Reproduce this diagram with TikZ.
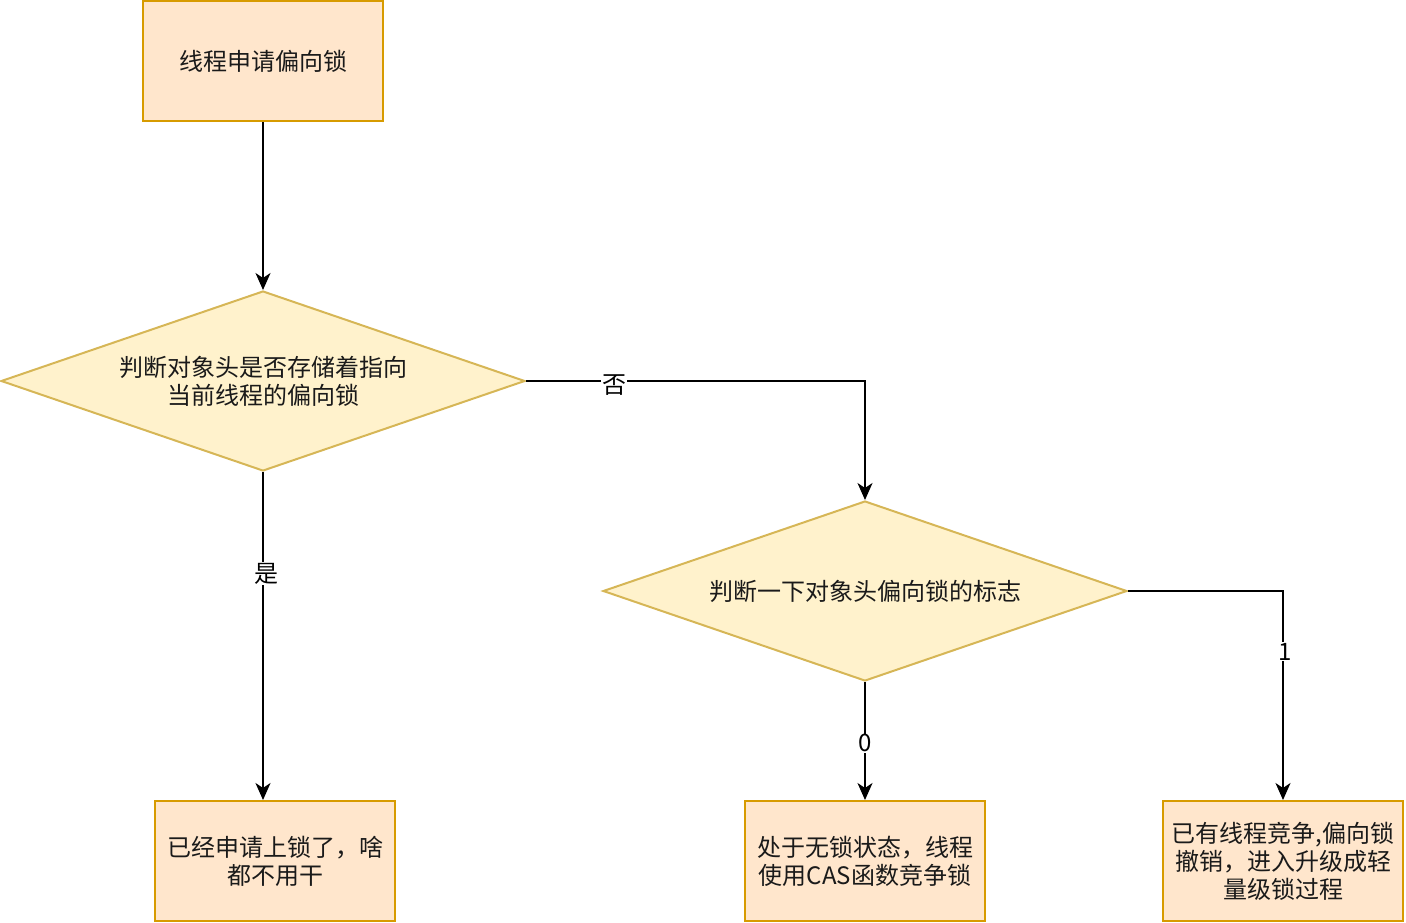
\documentclass[tikz,border=0pt]{standalone}
\usepackage{fontspec}
\setmainfont{Noto Sans CJK SC}
\usetikzlibrary{shapes.geometric,arrows.meta}
\definecolor{boxfill}{HTML}{FFE6CC}
\definecolor{boxline}{HTML}{D79B00}
\definecolor{decfill}{HTML}{FFF2CC}
\definecolor{decline}{HTML}{D6B656}
\definecolor{txt}{HTML}{1A1A1A}
\begin{document}
\begin{tikzpicture}[x=1pt,y=-1pt,
  every node/.style={font=\fontsize{24}{28}\selectfont, text=txt},
  procbox/.style={rectangle, draw=boxline, fill=boxfill, line width=2pt,
    minimum width=240pt, minimum height=120pt, inner sep=0pt, align=center},
  decbox/.style={diamond, draw=decline, fill=decfill, line width=2pt,
    minimum width=524pt, minimum height=180pt, inner sep=0pt, aspect=2.9, align=center},
  arr/.style={line width=2pt, draw=black, -{Stealth[length=17pt,width=15pt,inset=5pt]}},
  lbl/.style={fill=white, inner sep=1pt, text=black}]
\useasboundingbox (0,0) rectangle (1406,922);
\node[procbox] (b1) at (263,61) {线程申请偏向锁};
\node[decbox] (d1) at (263,381) {判断对象头是否存储着指向\\当前线程的偏向锁};
\node[decbox] (d2) at (865,591) {判断一下对象头偏向锁的标志};
\node[procbox] (b2) at (275,861) {已经申请上锁了，啥\\都不用干};
\node[procbox] (b3) at (865,861) {处于无锁状态，线程\\使用CAS函数竞争锁};
\node[procbox] (b4) at (1283,861) {已有线程竞争,偏向锁\\撤销，进入升级成轻\\量级锁过程};
\draw[arr] (b1) -- (d1);
\draw[arr] (d1.south) -- (d1.south |- b2.north) node[lbl, pos=0.31, xshift=3pt] {是};
\draw[arr] (d1.east) -| (d2.north) node[lbl, pos=0.13, yshift=-4pt] {否};
\draw[arr] (d2.south) -- (b3.north) node[lbl, pos=0.52] {0};
\draw[arr] (d2.east) -| (b4.north) node[lbl, pos=0.645, xshift=2pt] {1};
\end{tikzpicture}
\end{document}
